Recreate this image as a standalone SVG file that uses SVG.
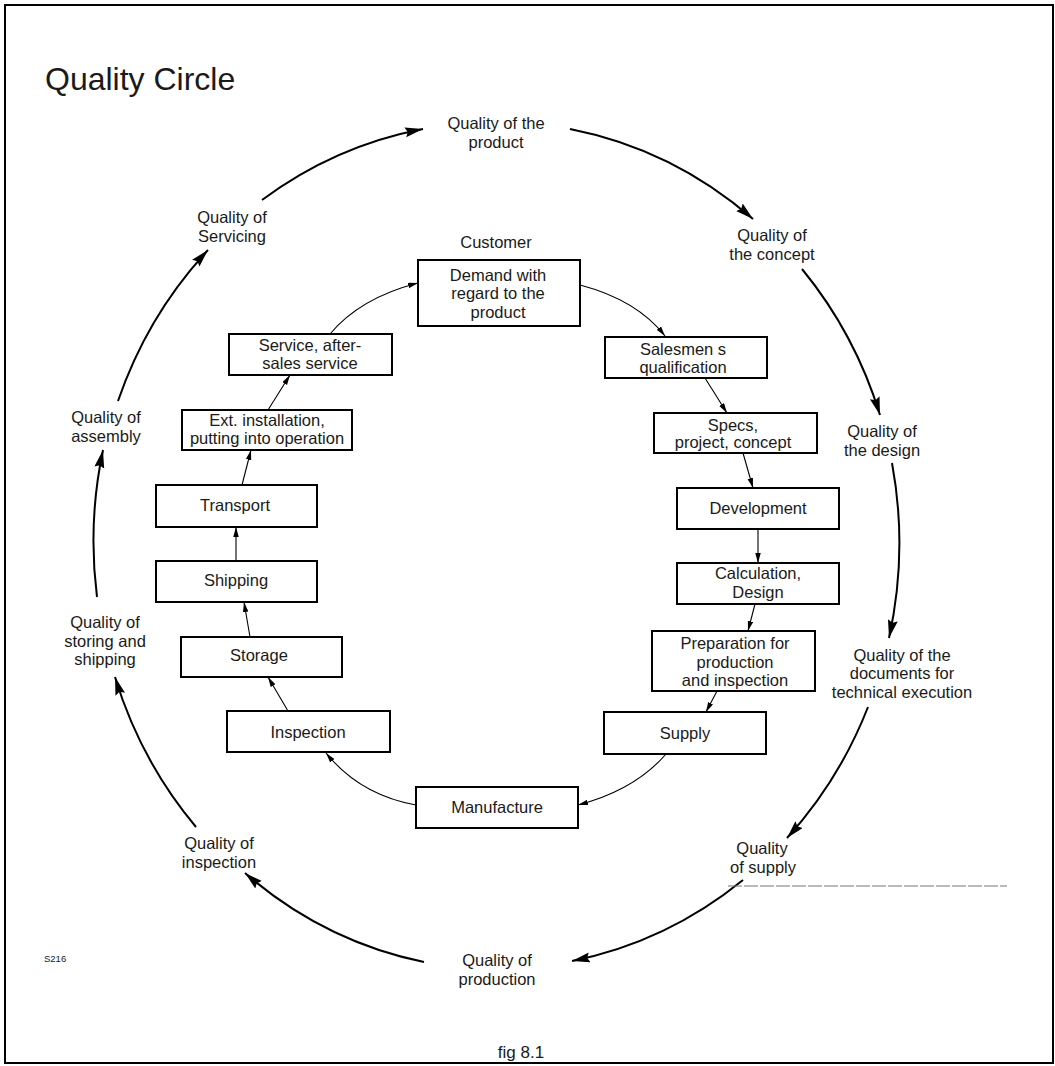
<svg xmlns="http://www.w3.org/2000/svg" width="1055" height="1066" viewBox="0 0 1055 1066">
<defs>
<style>
.frame{fill:#fff;stroke:#000;stroke-width:2}
.box{fill:#fff;stroke:#000;stroke-width:2}
.lbl{font-family:"Liberation Sans",Arial,sans-serif;font-size:16.5px;text-anchor:middle;fill:#1a1a1a}
.outer{fill:none;stroke:#000;stroke-width:2;marker-end:url(#ah)}
.inner{fill:none;stroke:#000;stroke-width:1.1;marker-end:url(#ahs)}
</style>
<marker id="ah" markerUnits="userSpaceOnUse" markerWidth="20" markerHeight="12" refX="18" refY="5" orient="auto"><path d="M0,0 L18,5 L0,10 L2.5,5 z" fill="#000"/></marker>
<marker id="ahs" markerUnits="userSpaceOnUse" markerWidth="11" markerHeight="6" refX="10" refY="2.75" orient="auto"><path d="M0,0 L10,2.75 L0,5.5 z" fill="#000"/></marker>
</defs>
<rect class="frame" x="5" y="5" width="1048" height="1058"/>
<text x="45" y="90" font-family="Liberation Sans, Arial, sans-serif" font-size="32" fill="#1a1a1a">Quality Circle</text>

<g id="connectors">
<path class="outer" d="M262,200 A403,422 0 0 1 423,129"/>
<path class="outer" d="M570,129 A403,422 0 0 1 753,219"/>
<path class="outer" d="M802,269 A403,422 0 0 1 880,415"/>
<path class="outer" d="M892,463 A403,422 0 0 1 889,638"/>
<path class="outer" d="M868,707 A403,422 0 0 1 787,838"/>
<path class="outer" d="M743,880 A403,422 0 0 1 572,961"/>
<path class="outer" d="M424,962 A403,422 0 0 1 245,873"/>
<path class="outer" d="M196,827 A403,422 0 0 1 115,677"/>
<path class="outer" d="M97,597 A403,422 0 0 1 103,450"/>
<path class="outer" d="M118,401 A403,422 0 0 1 208,250"/>

<path class="inner" d="M580,285 Q637,300 665,336"/>
<path class="inner" d="M705,378 L727,413"/>
<path class="inner" d="M743,453 L753,488"/>
<path class="inner" d="M758,529 L758,563"/>
<path class="inner" d="M755,604 L748,631"/>
<path class="inner" d="M717,691 L706,712"/>
<path class="inner" d="M666,754 Q635,790 578,805"/>
<path class="inner" d="M416,805 Q360,795 326,753"/>
<path class="inner" d="M288,711 L268,677"/>
<path class="inner" d="M250,637 L244,602"/>
<path class="inner" d="M236,561 L236,527"/>
<path class="inner" d="M242,485 L251,450"/>
<path class="inner" d="M268,410 L290,375"/>
<path class="inner" d="M330,334 Q360,298 418,283"/>
</g>

<line x1="728" y1="886" x2="1007" y2="886" stroke="#777" stroke-width="1" stroke-dasharray="14 2"/>

<g id="q-product"><text class="lbl" x="496" y="129">Quality of the</text><text class="lbl" x="496" y="148">product</text></g>
<g id="q-concept"><text class="lbl" x="772" y="241">Quality of</text><text class="lbl" x="772" y="260">the concept</text></g>
<g id="q-design"><text class="lbl" x="882" y="437">Quality of</text><text class="lbl" x="882" y="456">the design</text></g>
<g id="q-docs"><text class="lbl" x="902" y="661">Quality of the</text><text class="lbl" x="902" y="679">documents for</text><text class="lbl" x="902" y="698">technical execution</text></g>
<g id="q-supply"><text class="lbl" x="762" y="854">Quality</text><text class="lbl" x="763" y="873">of supply</text></g>
<g id="q-production"><text class="lbl" x="497" y="966">Quality of</text><text class="lbl" x="497" y="985">production</text></g>
<g id="q-inspection"><text class="lbl" x="219" y="849">Quality of</text><text class="lbl" x="219" y="868">inspection</text></g>
<g id="q-storing"><text class="lbl" x="105" y="628">Quality of</text><text class="lbl" x="105" y="647">storing and</text><text class="lbl" x="105" y="665">shipping</text></g>
<g id="q-assembly"><text class="lbl" x="106" y="423">Quality of</text><text class="lbl" x="106" y="442">assembly</text></g>
<g id="q-servicing"><text class="lbl" x="232" y="223">Quality of</text><text class="lbl" x="232" y="242">Servicing</text></g>

<g id="customer"><text class="lbl" x="496" y="248">Customer</text></g>
<g id="n-demand"><rect class="box" x="418" y="260" width="162" height="66"/><text class="lbl" x="498" y="281">Demand with</text><text class="lbl" x="498" y="299">regard to the</text><text class="lbl" x="498" y="318">product</text></g>
<g id="n-salesmen"><rect class="box" x="605" y="337" width="162" height="41"/><text class="lbl" x="683" y="355">Salesmen s</text><text class="lbl" x="683" y="373">qualification</text></g>
<g id="n-specs"><rect class="box" x="654" y="413" width="163" height="40"/><text class="lbl" x="733" y="431">Specs,</text><text class="lbl" x="733" y="448">project, concept</text></g>
<g id="n-development"><rect class="box" x="677" y="488" width="162" height="41"/><text class="lbl" x="758" y="514">Development</text></g>
<g id="n-calculation"><rect class="box" x="677" y="563" width="162" height="41"/><text class="lbl" x="758" y="579">Calculation,</text><text class="lbl" x="758" y="598">Design</text></g>
<g id="n-preparation"><rect class="box" x="652" y="631" width="163" height="60"/><text class="lbl" x="735" y="649">Preparation for</text><text class="lbl" x="735" y="668">production</text><text class="lbl" x="735" y="686">and inspection</text></g>
<g id="n-supply"><rect class="box" x="604" y="712" width="162" height="42"/><text class="lbl" x="685" y="739">Supply</text></g>
<g id="n-manufacture"><rect class="box" x="416" y="787" width="162" height="41"/><text class="lbl" x="497" y="813">Manufacture</text></g>
<g id="n-inspection"><rect class="box" x="227" y="711" width="163" height="41"/><text class="lbl" x="308" y="738">Inspection</text></g>
<g id="n-storage"><rect class="box" x="181" y="637" width="161" height="40"/><text class="lbl" x="259" y="661">Storage</text></g>
<g id="n-shipping"><rect class="box" x="156" y="561" width="161" height="41"/><text class="lbl" x="236" y="586">Shipping</text></g>
<g id="n-transport"><rect class="box" x="156" y="485" width="161" height="42"/><text class="lbl" x="235" y="511">Transport</text></g>
<g id="n-ext"><rect class="box" x="182" y="410" width="170" height="40"/><text class="lbl" x="267" y="426">Ext. installation,</text><text class="lbl" x="267" y="444">putting into operation</text></g>
<g id="n-service"><rect class="box" x="229" y="334" width="163" height="41"/><text class="lbl" x="310" y="351">Service, after-</text><text class="lbl" x="310" y="369">sales service</text></g>

<text x="44" y="962" font-family="Liberation Sans, Arial, sans-serif" font-size="9.5" fill="#1a1a1a">S216</text>
<text x="521" y="1058" font-family="Liberation Sans, Arial, sans-serif" font-size="17" text-anchor="middle" fill="#1a1a1a">fig 8.1</text>
</svg>
